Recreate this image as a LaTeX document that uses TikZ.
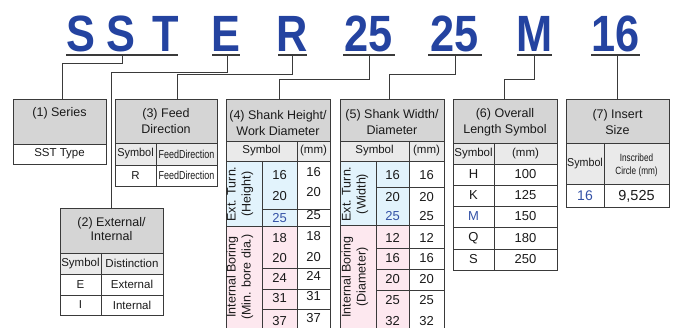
\documentclass[tikz,border=0pt]{standalone}
\usepackage{fontspec}
\setmainfont{Liberation Sans}
\definecolor{codeblue}{HTML}{2443A0}
\definecolor{linec}{HTML}{3A3A3A}
\definecolor{hdrg}{HTML}{D5D5D5}
\definecolor{symg}{HTML}{EAEAEA}
\definecolor{extb}{HTML}{E2F3FC}
\definecolor{intp}{HTML}{FDE8EF}
\definecolor{celltxt}{HTML}{1A1A1A}
\definecolor{bluetxt}{HTML}{3452A6}
\tikzset{
 code/.style={font=\fontsize{51}{51}\selectfont\bfseries, text=codeblue, inner sep=0, anchor=base, xscale=0.85},
 uline/.style={draw=linec, line width=1.1pt},
 conn/.style={draw=linec, line width=0.9pt},
 frame/.style={draw=linec, line width=0.9pt},
 grid/.style={draw=linec, line width=0.6pt},
 htxt/.style={font=\fontsize{12.5}{16}\selectfont, align=center, inner sep=0, text=celltxt},
 ttxt/.style={font=\fontsize{11.5}{13}\selectfont, inner sep=0, text=celltxt},
 ctxt/.style={font=\fontsize{11.5}{13}\selectfont, inner sep=0, text=celltxt, align=center, xscale=0.78},
 ntxt/.style={font=\fontsize{13}{14}\selectfont, inner sep=0, text=celltxt},
 btxt/.style={ntxt, text=bluetxt},
 rtxt/.style={font=\fontsize{12.5}{15}\selectfont, align=center, inner sep=0, rotate=90, text=celltxt},
}
\begin{document}
\begin{tikzpicture}[x=1pt,y=-1pt]
\useasboundingbox (0,0) rectangle (675,328);
\clip (0,0) rectangle (675,328);

% ---- code letters
\node[code] (l1) at (80.5,52) {S};
\node[code] (l2) at (120.5,52) {S};
\node[code] (l3) at (166,52) {T};
\node[code] (l4) at (226,52) {E};
\node[code] (l5) at (292.5,52) {R};
\node[code] (l6) at (369,52) {25};
\node[code] (l7) at (455,52) {25};
\node[code] (l8) at (534.5,52) {M};
\node[code] (l9) at (615.5,52) {16};

% ---- underlines
\coordinate (a1) at (66,55);  \coordinate (b1) at (178,55);
\coordinate (a2) at (212,55); \coordinate (b2) at (240,55);
\coordinate (a3) at (278,55); \coordinate (b3) at (307,55);
\coordinate (a4) at (343,55); \coordinate (b4) at (395,55);
\coordinate (a5) at (428,55); \coordinate (b5) at (482,55);
\coordinate (a6) at (517,55); \coordinate (b6) at (552,55);
\coordinate (a7) at (591,55); \coordinate (b7) at (640,55);
\foreach \i in {1,...,7} {\draw[uline] (a\i) -- (b\i);}

% ---- connector anchors
\coordinate (u1) at (122,55);  \coordinate (t1) at (62,99);
\coordinate (u2) at (227,55);  \coordinate (t2) at (111,208);
\coordinate (u3) at (292,55);  \coordinate (t3) at (177,99);
\coordinate (u4) at (369,55);  \coordinate (t4) at (279,99);
\coordinate (u5) at (455,55);  \coordinate (t5) at (389,99);
\coordinate (u6) at (534,55);  \coordinate (t6) at (504,99);
\coordinate (u7) at (617,55);  \coordinate (t7) at (617,99);
\draw[conn] (u1) -- ++(0,8) -| (t1);
\draw[conn] (u2) -- ++(0,17) -| (t2);
\draw[conn] (u3) -- ++(0,19) -| (t3);
\draw[conn] (u4) -- ++(0,24) -| (t4);
\draw[conn] (u5) -- ++(0,19) -| (t5);
\draw[conn] (u6) -- ++(0,24) -| (t6);
\draw[conn] (u7) -- (t7);

% ---- (1) Series
\fill[hdrg] (13,99) rectangle (106,144);
\draw[grid] (13,144) -- (106,144);
\draw[frame] (13,99) rectangle (106,164);
\node[htxt] (h1) at (59.5,113) {(1) Series};
\node[ttxt] (s1) at (59.5,154) {SST Type};

% ---- (3) Feed Direction
\fill[hdrg] (115,99) rectangle (217,143);
\fill[symg] (115,143) rectangle (217,165);
\draw[grid] (115,143) -- (217,143) (115,165) -- (217,165) (156,143) -- (156,186);
\draw[frame] (115,99) rectangle (217,186);
\node[htxt] (h3) at (166,121) {(3) Feed\\Direction};
\node[ttxt, xscale=0.95] (s3a) at (135.5,154) {Symbol};
\node[ctxt] (s3b) at (186.5,154) {FeedDirection};
\node[ttxt] (r3a) at (135.5,175.5) {R};
\node[ctxt] (r3b) at (186.5,175.5) {FeedDirection};

% ---- (2) External / Internal
\fill[hdrg] (60,208) rectangle (163,253);
\fill[symg] (60,253) rectangle (163,274);
\draw[grid] (60,253) -- (163,253) (60,274) -- (163,274) (60,295) -- (163,295) (101,253) -- (101,315);
\draw[frame] (60,208) rectangle (163,315);
\node[htxt, font=\fontsize{12.5}{14}\selectfont] (h2) at (111.5,229) {(2) External/\\Internal};
\node[ttxt] (s2a) at (80.5,263.5) {Symbol};
\node[ttxt] (s2b) at (132,263.5) {Distinction};
\node[ttxt] (r2a) at (80.5,284.5) {E};
\node[ttxt] (r2b) at (132,284.5) {External};
\node[ttxt] (r2c) at (80.5,305) {I};
\node[ttxt] (r2d) at (132,305) {Internal};

% ---- (4) Shank Height / Work Diameter
\fill[hdrg] (226,99) rectangle (330,141);
\fill[symg] (226,141) rectangle (330,161);
\fill[extb] (226,161) rectangle (297,226);
\fill[intp] (226,226) rectangle (297,340);
\draw[grid] (226,141) -- (330,141) (226,161) -- (330,161) (297,141) -- (297,340)
  (262,161) -- (262,340) (226,226) -- (330,226) (262,209) -- (330,209)
  (262,268) -- (330,268) (262,289) -- (330,289) (262,309) -- (330,309);
\draw[frame] (226,340) -- (226,99) -- (330,99) -- (330,340);
\node[htxt] (h4) at (278,123) {(4) Shank Height/\\Work Diameter};
\node[ttxt] (s4a) at (261.5,151) {Symbol};
\node[ttxt] (s4b) at (313.5,151) {(mm)};
\node[rtxt] (v4a) at (240,194) {Ext. Turn.\\(Height)};
\node[rtxt] (v4b) at (240,277) {Internal Boring\\(Min. bore dia.)};
\node[ntxt] (p4a) at (279.5,175) {16};
\node[ntxt] (p4b) at (279.5,196) {20};
\node[btxt] (p4c) at (279.5,218) {25};
\node[ntxt] (p4d) at (279.5,238) {18};
\node[ntxt] (p4e) at (279.5,258) {20};
\node[ntxt] (p4f) at (279.5,278) {24};
\node[ntxt] (p4g) at (279.5,298) {31};
\node[ntxt] (p4h) at (279.5,321) {37};
\node[ntxt] (q4a) at (313.5,172) {16};
\node[ntxt] (q4b) at (313.5,192) {20};
\node[ntxt] (q4c) at (313.5,215) {25};
\node[ntxt] (q4d) at (313.5,236) {18};
\node[ntxt] (q4e) at (313.5,257) {20};
\node[ntxt] (q4f) at (313.5,276) {24};
\node[ntxt] (q4g) at (313.5,296) {31};
\node[ntxt] (q4h) at (313.5,318) {37};

% ---- (5) Shank Width / Diameter
\fill[hdrg] (340,99) rectangle (444,141);
\fill[symg] (340,141) rectangle (444,161);
\fill[extb] (340,161) rectangle (409,225);
\fill[intp] (340,225) rectangle (409,340);
\draw[grid] (340,141) -- (444,141) (340,161) -- (444,161) (409,141) -- (409,340)
  (376,161) -- (376,340) (340,225) -- (444,225) (376,187) -- (444,187)
  (376,248) -- (444,248) (376,269) -- (444,269) (376,290) -- (444,290);
\draw[frame] (340,340) -- (340,99) -- (444,99) -- (444,340);
\node[htxt] (h5) at (392,122) {(5) Shank Width/\\Diameter};
\node[ttxt] (s5a) at (374.5,151) {Symbol};
\node[ttxt] (s5b) at (426.5,151) {(mm)};
\node[rtxt] (v5a) at (355,194) {Ext. Turn.\\(Width)};
\node[rtxt] (v5b) at (355,277) {Internal Boring\\(Diameter)};
\node[ntxt] (p5a) at (392.5,175) {16};
\node[ntxt] (p5b) at (392.5,197) {20};
\node[btxt] (p5c) at (392.5,216) {25};
\node[ntxt] (p5d) at (392.5,238) {12};
\node[ntxt] (p5e) at (392.5,258) {16};
\node[ntxt] (p5f) at (392.5,279) {20};
\node[ntxt] (p5g) at (392.5,300) {25};
\node[ntxt] (p5h) at (392.5,321) {32};
\node[ntxt] (q5a) at (426.5,175) {16};
\node[ntxt] (q5b) at (426.5,197) {20};
\node[ntxt] (q5c) at (426.5,216) {25};
\node[ntxt] (q5d) at (426.5,238) {12};
\node[ntxt] (q5e) at (426.5,258) {16};
\node[ntxt] (q5f) at (426.5,279) {20};
\node[ntxt] (q5g) at (426.5,300) {25};
\node[ntxt] (q5h) at (426.5,321) {32};

% ---- (6) Overall Length Symbol
\fill[hdrg] (453,99) rectangle (557,143);
\fill[symg] (453,143) rectangle (557,164);
\draw[grid] (453,143) -- (557,143) (453,164) -- (557,164) (453,185) -- (557,185)
  (453,206) -- (557,206) (453,227) -- (557,227) (453,249) -- (557,249) (494,143) -- (494,270);
\draw[frame] (453,99) rectangle (557,270);
\node[htxt] (h6) at (505,122) {(6) Overall\\Length Symbol};
\node[ttxt] (s6a) at (473.5,153.5) {Symbol};
\node[ttxt] (s6b) at (525.5,153.5) {(mm)};
\node[ntxt] (p6a) at (473.5,174.5) {H};
\node[ntxt] (p6b) at (473.5,195.5) {K};
\node[btxt] (p6c) at (473.5,216.5) {M};
\node[ntxt] (p6d) at (473.5,238) {Q};
\node[ntxt] (p6e) at (473.5,259.5) {S};
\node[ntxt] (q6a) at (525.5,174.5) {100};
\node[ntxt] (q6b) at (525.5,195.5) {125};
\node[ntxt] (q6c) at (525.5,216.5) {150};
\node[ntxt] (q6d) at (525.5,238) {180};
\node[ntxt] (q6e) at (525.5,259.5) {250};

% ---- (7) Insert Size
\fill[hdrg] (566,99) rectangle (669,143);
\fill[symg] (566,143) rectangle (669,184);
\draw[grid] (566,143) -- (669,143) (566,184) -- (669,184) (604,143) -- (604,207);
\draw[frame] (566,99) rectangle (669,207);
\node[htxt] (h7) at (617.5,122) {(7) Insert\\Size};
\node[ttxt, xscale=0.93] (s7a) at (585,163.5) {Symbol};
\node[ctxt, font=\fontsize{10.5}{13}\selectfont] (s7b) at (636.5,165) {Inscribed\\Circle (mm)};
\node[btxt, font=\fontsize{14}{15}\selectfont] (p7a) at (585,196) {16};
\node[ntxt, font=\fontsize{14.5}{15}\selectfont] (q7a) at (636.5,196) {9,525};
\end{tikzpicture}
\end{document}
